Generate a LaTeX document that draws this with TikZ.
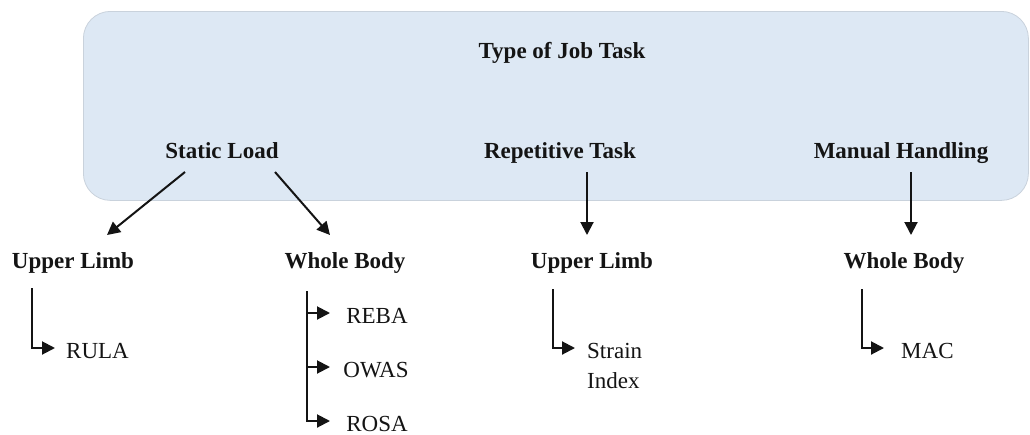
\documentclass[tikz,border=0pt]{standalone}
\usepackage{fontspec}
\setmainfont{Liberation Serif}
\usetikzlibrary{arrows.meta,calc}
\definecolor{panelblue}{HTML}{DDE8F4}
\definecolor{paneledge}{HTML}{C9D2DC}
\definecolor{ink}{HTML}{141414}
\begin{document}
\begin{tikzpicture}[x=1pt,y=-1pt,
  panel/.style={fill=panelblue, draw=paneledge, line width=0.8pt, rounded corners=27pt,
    minimum width=945pt, minimum height=189pt, inner sep=0pt, anchor=north west},
  hdr/.style={font=\fontsize{23}{27}\selectfont\bfseries, inner sep=0pt, anchor=base, text=ink},
  lbl/.style={font=\fontsize{23}{30}\selectfont, inner sep=0pt, text=ink},
  arr/.style={line width=2pt, draw=ink, -{Triangle[length=13pt,width=13pt]}}
]
\useasboundingbox (0,0) rectangle (1030,434);
\node[panel] (bg) at (83,11) {};

% headings
\node[hdr] (root) at (562,58) {Type of Job Task};
\node[hdr] (sl) at (222,158) {Static Load};
\node[hdr] (rt) at (560,158) {Repetitive Task};
\node[hdr] (mh) at (901,158) {Manual Handling};
\node[hdr] (ul1) at (73,268) {Upper Limb};
\node[hdr] (wb1) at (345,268) {Whole Body};
\node[hdr] (ul2) at (592,268) {Upper Limb};
\node[hdr] (wb2) at (904,268) {Whole Body};

% methods
\node[lbl, anchor=base west] (rula) at (66,358) {RULA};
\node[lbl, anchor=base] (reba) at (377,323) {REBA};
\node[lbl, anchor=base] (owas) at (376,377) {OWAS};
\node[lbl, anchor=base] (rosa) at (377,431) {ROSA};
\node[lbl, anchor=base west, align=left] (si) at (587,388) {Strain\\Index};
\node[lbl, anchor=base west] (mac) at (901,358) {MAC};

% category arrows
\draw[arr] ($(sl.base)+(-37,14)$) -- ($(ul1.base)+(34,-33)$);
\draw[arr] ($(sl.base)+(53,14)$) -- ($(wb1.base)+(-15,-33)$);
\draw[arr] ($(rt.base)+(27,14)$) -- ($(ul2.base)+(-5,-33)$);
\draw[arr] ($(mh.base)+(10,14)$) -- ($(wb2.base)+(7,-33)$);

% elbow arrows
\draw[arr] ($(ul1.base west)+(20,20)$) |- ($(rula.base west)+(-11,-10)$);
\draw[arr] ($(wb1.base west)+(23,23)$) |- ($(reba.base)+(-47,-10)$);
\draw[arr] ($(wb1.base west)+(23,23)$) |- ($(owas.base)+(-46,-10)$);
\draw[arr] ($(wb1.base west)+(23,23)$) |- ($(rosa.base)+(-47,-10)$);
\draw[arr] ($(ul2.base west)+(22,21)$) |- ($(si.base west)+(-12,-40)$);
\draw[arr] ($(wb2.base west)+(19,21)$) |- ($(mac.base west)+(-17,-10)$);
\end{tikzpicture}
\end{document}
